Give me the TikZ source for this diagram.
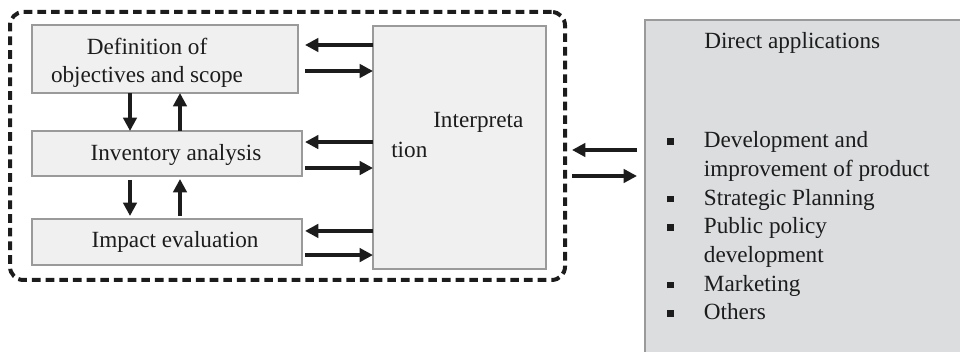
\documentclass[tikz,border=0pt]{standalone}
\usepackage{fontspec}
\setmainfont{Liberation Serif}
\usetikzlibrary{arrows.meta,fit}
\definecolor{boxgray}{HTML}{F0F0F0}
\definecolor{appgray}{HTML}{DCDDDF}
\definecolor{edgegray}{HTML}{9A9A9A}
\definecolor{ink}{HTML}{1C1C1C}
\newcommand\sqbullet{\rule[2.25pt]{5pt}{5pt}}

\begin{document}
\begin{tikzpicture}[x=0.75pt, y=-0.75pt,
    font=\fontsize{17.4}{21.5}\selectfont]
  \tikzset{
    stage/.style={draw=edgegray, fill=boxgray, line width=0.8pt, inner sep=0pt, outer sep=0pt},
    flow/.style={draw=ink, line width=3pt, -{Triangle[length=10pt,width=10pt]}},
    lbl/.style={inner sep=0pt, text=ink},
  }
  \clip (0,0) rectangle (960,352);

  % boxes
  \node[draw=ink, line width=3pt, dash pattern=on 6.5pt off 3.75pt, rounded corners=10pt,
    inner sep=0pt, outer sep=0pt, fit={(10,12) (565,280)}] (frame) {};
  \node[stage, fit={(32,25) (298,93)}] (def) {};
  \node[stage, fit={(32,131) (302,176)}] (inv) {};
  \node[stage, fit={(32,219) (302,265)}] (imp) {};
  \node[stage, fit={(373,26) (546,269)}] (interp) {};
  \node[stage, fill=appgray, fit={(645,20) (1000,400)}] (apps) {};

  % texts
  \node[lbl, align=center, anchor=base, font=\fontsize{17.4}{21}\selectfont]
    (deftxt) at (147,83) {Definition of\\objectives and scope};
  \node[lbl, anchor=base] (invtxt) at (176,161) {Inventory analysis};
  \node[lbl, anchor=base] (imptxt) at (175,248) {Impact evaluation};
  \node[lbl, align=left, anchor=base west, font=\fontsize{17.4}{22.5}\selectfont]
    (interptxt) at (391,158) {\hspace*{31.5pt}Interpreta\\tion};
  \node[lbl, anchor=base west] (appstitle) at (704,49) {Direct applications};
  \node[lbl, anchor=base west] (appslist) at (667,148) {%
    \begin{tabular}[t]{@{}l@{\hspace{22.5pt}}l@{}}
      \sqbullet & Development and\\
                & improvement of product\\
      \sqbullet & Strategic Planning\\
      \sqbullet & Public policy\\
                & development\\
      \sqbullet & Marketing\\
      \sqbullet & Others
    \end{tabular}};

  % stage <-> interpretation
  \foreach \n/\u/\d/\g in {def/10.5/9/5.25, inv/8.6/10.9/2.25, imp/8.3/9.8/2.25} {
    \draw[flow, shorten >=\g pt] ([yshift=\u pt]interp.west |- \n.east) -- ([yshift=\u pt]\n.east);
    \draw[flow, shorten <=\g pt] ([yshift=-\d pt]\n.east) -- ([yshift=-\d pt]interp.west |- \n.east);
  }

  % stage <-> stage
  \draw[flow] ([xshift=-26.25pt]def.south) -- ([xshift=-26.25pt]def.south |- inv.north);
  \draw[flow] ([xshift=11.25pt]def.south |- inv.north) -- ([xshift=11.25pt]def.south);
  \draw[flow, shorten <=3pt, shorten >=2.25pt] ([xshift=-27.75pt]inv.south) -- ([xshift=-27.75pt]inv.south |- imp.north);
  \draw[flow, shorten <=2.25pt, shorten >=2.25pt] ([xshift=9.75pt]inv.south |- imp.north) -- ([xshift=9.75pt]inv.south);

  % frame <-> applications
  \draw[flow, shorten <=6pt, shorten >=5.25pt] ([yshift=-3pt]apps.west |- frame.east) -- ([yshift=-3pt]frame.east);
  \draw[flow, shorten <=5.25pt, shorten >=6pt] ([yshift=-22.5pt]frame.east) -- ([yshift=-22.5pt]apps.west |- frame.east);
\end{tikzpicture}
\end{document}
